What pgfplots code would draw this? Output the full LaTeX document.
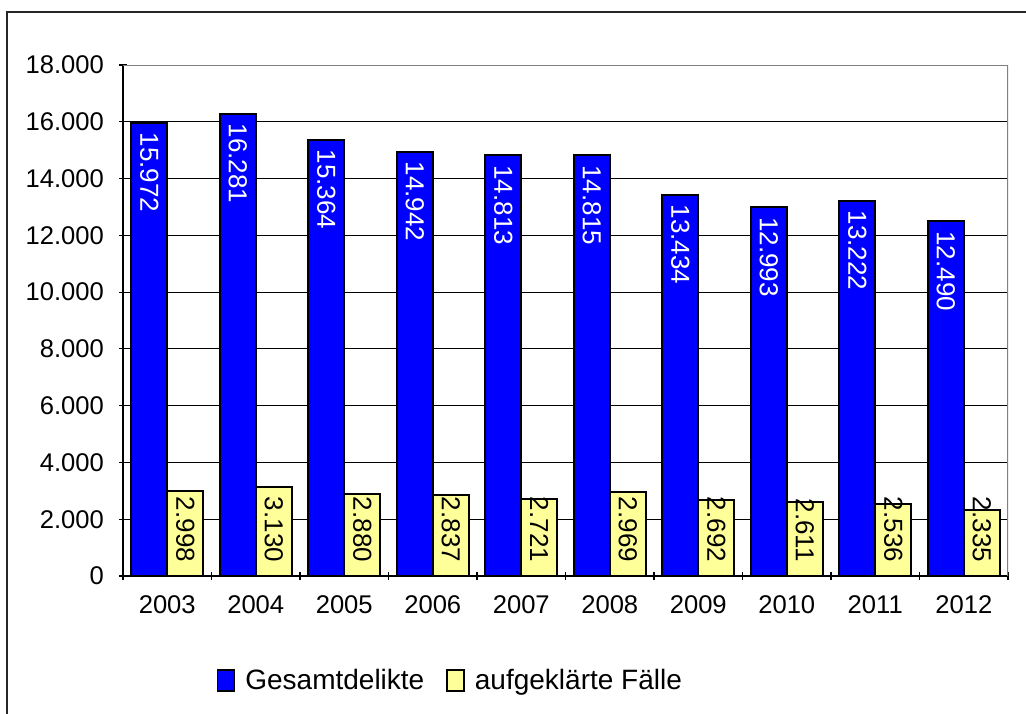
\documentclass[border=0pt]{standalone}
\usepackage{fontspec}
\setmainfont{Liberation Sans}
\usepackage{pgfplots}
\pgfplotsset{compat=1.18}
\definecolor{barblue}{RGB}{0,0,255}
\definecolor{baryellow}{RGB}{255,255,153}
\definecolor{framegray}{RGB}{128,128,128}

\begin{document}
\begin{tikzpicture}[x=1pt,y=1pt]
\path[use as bounding box] (-61.5,-68.5) rectangle (451.5,288);
\draw[line width=0.8pt, black!85] (-58,-90) -- (-58,282) -- (480,282);
\begin{axis}[
    at={(0,0)}, anchor=south west,
    scale only axis, width=442.5pt, height=255.5pt,
    ybar=0pt, bar width=18pt,
    xmin=-0.5, xmax=9.5, ymin=0, ymax=18000,
    xtick={0,...,9},
    xticklabels={2003,2004,2005,2006,2007,2008,2009,2010,2011,2012},
    minor xtick={-0.5,0.5,...,9.5},
    major x tick style={draw=none},
    ytick={0,2000,...,18000},
    scaled y ticks=false,
    tick align=outside,
    major tick length=4pt, minor tick length=4pt,
    xtick pos=bottom, ytick pos=left,
    tick style={black, line width=0.6pt},
    axis lines=left,
    axis line style={-, black, line width=0.8pt},
    ymajorgrids=true,
    grid style={black, line width=0.5pt},
    ticklabel style={font=\fontsize{12.8}{14}\selectfont},
    xticklabel style={yshift=-4.5pt},
    yticklabel style={xshift=-4pt},
    /pgf/number format/.cd, 1000 sep={.}, assume math mode=true,
    /pgfplots/.cd,
    nodes near coords,
    nodes near coords align={horizontal},
    every node near coord/.append style={rotate=-90,
        font=\fontsize{13}{15}\selectfont},
    legend style={at={(0.371,-0.205)}, anchor=center, draw=none, fill=none,
        legend columns=2, font=\fontsize{14}{16}\selectfont,
        /tikz/every odd column/.append style={column sep=3pt},
        /tikz/every even column/.append style={column sep=9pt}},
    legend image code/.code={\draw[#1, line width=0.8pt] (0pt,-5pt) rectangle (8.5pt,5.5pt);},
]
\addplot[fill=barblue, draw=black, line width=1pt,
    every node near coord/.append style={text=white, anchor=west, inner sep=4.5pt}] coordinates {
    (0,15972)(1,16281)(2,15364)(3,14942)(4,14813)
    (5,14815)(6,13434)(7,12993)(8,13222)(9,12490)
};
\addplot[fill=baryellow, draw=black, line width=1pt,
    visualization depends on={rawy \as \yval},
    every node near coord/.append style={text=black, anchor=east, inner sep=0pt,
        xshift={(\yval*0.014194-6.5)*1pt}}] coordinates {
    (0,2998)(1,3130)(2,2880)(3,2837)(4,2721)
    (5,2969)(6,2692)(7,2611)(8,2536)(9,2335)
};
\legend{Gesamtdelikte, aufgeklärte Fälle}
\draw[framegray, line width=1pt] (rel axis cs:0,1) -- (rel axis cs:1,1) -- (rel axis cs:1,0);
\end{axis}
\end{tikzpicture}
\end{document}
